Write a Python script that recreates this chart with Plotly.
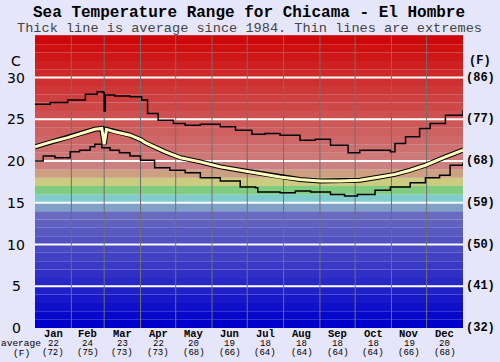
import plotly.graph_objects as go

# ---------------- data ----------------
months = ["Jan", "Feb", "Mar", "Apr", "May", "Jun", "Jul", "Aug", "Sep", "Oct", "Nov", "Dec"]
month_avg_c = [22, 24, 23, 22, 20, 19, 18, 18, 18, 18, 19, 20]
month_avg_f = [72, 75, 73, 73, 68, 66, 64, 64, 64, 64, 66, 68]
month_start_day = [0, 31, 59, 90, 120, 151, 181, 212, 243, 273, 304, 334, 365]

c_ticks = [0, 5, 10, 15, 20, 25, 30]
f_labels = ["(32)", "(41)", "(50)", "(59)", "(68)", "(77)", "(86)"]

max_day = [0, 13, 28, 43, 53, 58, 59, 60, 68, 81, 91, 96, 105, 118, 128, 141, 149, 158, 171, 185,
           196, 209, 217, 226, 239, 252, 267, 277, 290, 303, 307, 316, 328, 337, 350, 365]
max_c = [26.8, 27.0, 27.3, 28.0, 28.3, 28.2, 26.0, 27.9, 27.8, 27.7, 27.3, 25.7, 24.9, 24.5, 24.3, 24.4,
         24.4, 24.1, 23.7, 23.2, 23.3, 23.1, 23.1, 22.5, 22.6, 21.9, 21.0, 21.3, 21.3, 21.1, 22.1, 22.9,
         23.9, 24.5, 25.5, 26.1]

avg_day = [0, 14, 28, 43, 51, 57, 59, 61, 68, 81, 91, 94, 111, 124, 141, 158, 175, 188, 209, 226,
           243, 260, 277, 294, 307, 320, 333, 350, 365]
avg_c = [21.7, 22.3, 22.8, 23.4, 23.8, 23.9, 22.0, 23.8, 23.5, 23.1, 22.5, 22.2, 21.1, 20.4, 19.9,
         19.3, 18.9, 18.6, 18.1, 17.8, 17.6, 17.6, 17.7, 18.1, 18.4, 18.9, 19.5, 20.5, 21.3]

min_day = [0, 7, 17, 30, 38, 47, 51, 57, 64, 72, 81, 90, 94, 102, 115, 128, 141, 158, 175, 188,
           190, 209, 222, 235, 252, 264, 275, 290, 303, 320, 333, 345, 354, 365]
min_c = [20.0, 20.6, 20.4, 21.1, 21.3, 21.7, 22.0, 21.6, 21.3, 21.0, 20.6, 20.1, 20.1, 19.2, 18.9,
         18.6, 18.0, 17.6, 16.9, 16.8, 16.3, 16.2, 16.4, 16.3, 16.0, 15.8, 16.0, 16.5, 16.9, 17.4,
         18.0, 18.3, 19.5, 19.8]

Y_TOP = 35.1

# ---------------- background bands ----------------
def band_color(t):
    fixed = {14: "#80a0c8", 15: "#80cccc", 16: "#80cc80", 17: "#cccc80", 18: "#cca080", 19: "#cc8080"}
    if t in fixed:
        return fixed[t]
    if t < 14:
        f = t / 13.0
        v = int(0 + f * 106)
        return "rgb(%d,%d,%d)" % (v, v, int(204 - f * 12))
    f = (35 - t) / 15.0
    g = int(max(0, f * 120))
    return "rgb(%d,%d,%d)" % (206, g, g)

shapes = []
for t in range(0, 36):
    shapes.append(dict(type="rect", xref="paper", yref="y", x0=0, x1=1, y0=t, y1=min(t + 1, Y_TOP),
                       fillcolor=band_color(t), line=dict(width=0), layer="below"))
for t in c_ticks[1:]:
    shapes.append(dict(type="line", xref="paper", yref="y", x0=0, x1=1, y0=t, y1=t,
                       line=dict(color="white", width=2), layer="below"))
for d in month_start_day[1:-1]:
    shapes.append(dict(type="line", xref="x", yref="paper", x0=d, x1=d, y0=0, y1=1,
                       line=dict(color="#707070", width=1), layer="below"))

fig = go.Figure()
fig.add_trace(go.Scatter(x=max_day, y=max_c, mode="lines", line=dict(color="black", width=1.5, shape="hv"),
                         hoverinfo="skip"))
fig.add_trace(go.Scatter(x=min_day, y=min_c, mode="lines", line=dict(color="black", width=1.5, shape="hv"),
                         hoverinfo="skip"))
fig.add_trace(go.Scatter(x=avg_day, y=avg_c, mode="lines", line=dict(color="black", width=5),
                         hoverinfo="skip"))
fig.add_trace(go.Scatter(x=avg_day, y=avg_c, mode="lines", line=dict(color="#ffffc0", width=3),
                         hoverinfo="skip"))

ann = []
mono = "Liberation Mono"
ann.append(dict(text="<b>Sea Temperature Range for Chicama - El Hombre</b>", xref="paper", yref="paper",
                x=0.5, y=1, yshift=22, xanchor="center", yanchor="middle", showarrow=False,
                font=dict(family=mono, size=16, color="black")))
ann.append(dict(text="Thick line is average since 1984. Thin lines are extremes", xref="paper", yref="paper",
                x=0.5, y=1, yshift=7, xanchor="center", yanchor="middle", showarrow=False,
                font=dict(family=mono, size=13.6, color="#444444")))
for t, fl in zip(c_ticks, f_labels):
    ann.append(dict(text=str(t), xref="paper", yref="y", x=0, xshift=-19, y=t, xanchor="center",
                    yanchor="middle", showarrow=False, font=dict(family="DejaVu Sans", size=14, color="black")))
    ann.append(dict(text="<b>" + fl + "</b>", xref="paper", yref="y", x=1, xshift=1, y=t, xanchor="left",
                    yanchor="middle", showarrow=False, font=dict(family=mono, size=12, color="black")))
ann.append(dict(text="C", xref="paper", yref="y", x=0, xshift=-19, y=Y_TOP, yshift=-26, xanchor="center",
                yanchor="middle", showarrow=False, font=dict(family="DejaVu Sans", size=14, color="black")))
ann.append(dict(text="<b>(F)</b>", xref="paper", yref="y", x=1, xshift=4, y=Y_TOP, yshift=-26, xanchor="left",
                yanchor="middle", showarrow=False, font=dict(family=mono, size=12, color="black")))
for i, m in enumerate(months):
    mid = (month_start_day[i] + month_start_day[i + 1]) / 2
    ann.append(dict(text="<b>" + m + "</b>", xref="x", yref="paper", x=mid, y=0, yshift=-6,
                    xanchor="center", yanchor="middle", showarrow=False,
                    font=dict(family=mono, size=10.5, color="black")))
    ann.append(dict(text=str(month_avg_c[i]), xref="x", yref="paper", x=mid, y=0, yshift=-15.5,
                    xanchor="center", yanchor="middle", showarrow=False,
                    font=dict(family=mono, size=9, color="black")))
    ann.append(dict(text="(" + str(month_avg_f[i]) + ")", xref="x", yref="paper", x=mid, y=0, yshift=-25,
                    xanchor="center", yanchor="middle", showarrow=False,
                    font=dict(family=mono, size=9, color="black")))
ann.append(dict(text="average", xref="paper", yref="paper", x=0, xshift=8, y=0, yshift=-15.5,
                xanchor="right", yanchor="middle", showarrow=False,
                font=dict(family=mono, size=9.5, color="black")))
ann.append(dict(text="(F)", xref="paper", yref="paper", x=0, xshift=-14, y=0, yshift=-25,
                xanchor="center", yanchor="middle", showarrow=False,
                font=dict(family=mono, size=9.5, color="black")))

fig.update_layout(
    width=500, height=362,
    margin=dict(l=35, r=37, t=35, b=34),
    paper_bgcolor="#e6e6fa", plot_bgcolor="#e6e6fa",
    showlegend=False,
    shapes=shapes, annotations=ann,
    xaxis=dict(range=[0, 365], showgrid=False, zeroline=False, showticklabels=False, ticks=""),
    yaxis=dict(range=[0, Y_TOP], showgrid=False, zeroline=False, showticklabels=False, ticks=""),
)
fig.write_html("out.html", config={"displayModeBar": False},
               post_script="document.body.style.margin='0';document.body.style.overflow='hidden';")
